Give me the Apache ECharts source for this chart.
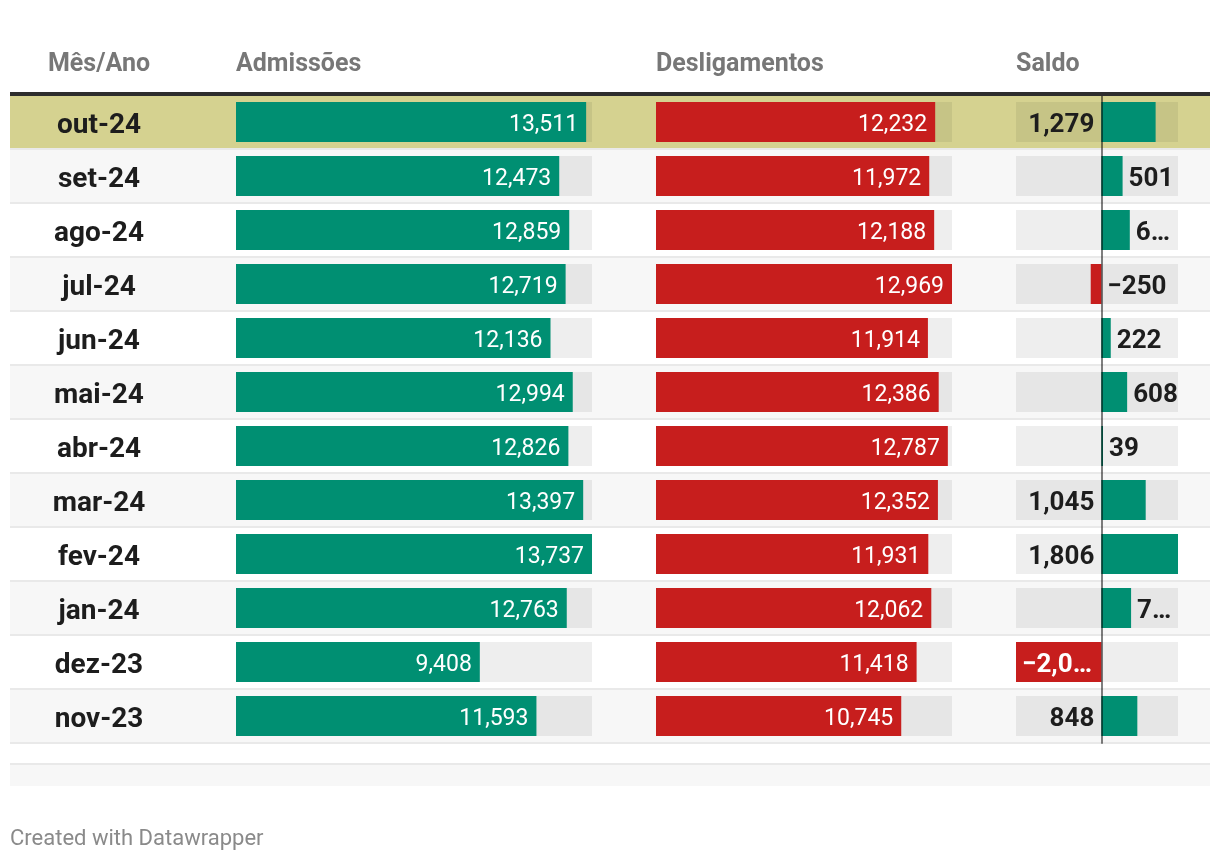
<!DOCTYPE html>
<html><head><meta charset="utf-8">
<script src="https://cdn.jsdelivr.net/npm/echarts@6.0.0/dist/echarts.min.js"></script>
<style>html,body{margin:0;padding:0;background:#fff}#c{width:1220px;height:862px}</style>
</head><body><div id="c"></div>
<script>
// ---- data ----
const months = ['out-24','set-24','ago-24','jul-24','jun-24','mai-24','abr-24','mar-24','fev-24','jan-24','dez-23','nov-23'];
const admissoes = [13511,12473,12859,12719,12136,12994,12826,13397,13737,12763,9408,11593];
const desligamentos = [12232,11972,12188,12969,11914,12386,12787,12352,11931,12062,11418,10745];
const saldo = [1279,501,671,-250,222,608,39,1045,1806,701,-2010,848];
const headers = ['Mês/Ano','Admissões','Desligamentos','Saldo'];
const highlightRow = 'out-24';
const footer = 'Created with Datawrapper';

// ---- layout / style ----
const FONT = 'Roboto, "Noto Sans", sans-serif';
const TOP = 95, ROWH = 54, H = ROWH * months.length;
const ROWG = {left: 10, width: 1200};
const ADM = {left: 236, width: 356};
const DES = {left: 656, width: 296};
const SAL = {left: 1016, width: 162};
const GREEN = '#008f72', RED = '#c71e1d', DARK = '#1d1d1d', HL = '#d5d290';
const TRACK = 'rgba(0,0,0,0.068)';
const SAL_FONT_SIZE = 26;
const SAL_FONT = 'bold ' + SAL_FONT_SIZE + 'px ' + FONT;
const fmt = v => (v < 0 ? '\u2212' : '') + Math.abs(v).toLocaleString('en-US');

const salMin = Math.min(...saldo), salMax = Math.max(...saldo);
const salPx = SAL.width / (salMax - salMin);

const mctx = document.createElement('canvas').getContext('2d');
function measure(t, font) { mctx.font = font; return mctx.measureText(t).width; }
function truncate(t, font, maxW) {
  if (measure(t, font) <= maxW) return t;
  for (let n = t.length - 1; n > 0; n--) {
    const s = t.slice(0, n) + '…';
    if (measure(s, font) <= maxW) return s;
  }
  return '…';
}

function grid(g) { return {left: g.left, width: g.width, top: TOP, height: H, containLabel: false}; }
function yCat(gi, extra) {
  return Object.assign({type: 'category', gridIndex: gi, data: months, inverse: true,
    axisLine: {show: false}, axisTick: {show: false}, axisLabel: {show: false}, splitLine: {show: false}}, extra || {});
}
function xVal(gi, min, max) {
  return {type: 'value', gridIndex: gi, min: min, max: max, show: false, splitLine: {show: false}};
}

function saldoLabel(v) {
  const base = {show: true, fontFamily: FONT, fontSize: SAL_FONT_SIZE, fontWeight: 'bold', offset: [0, 3]};
  if (v >= 800) return Object.assign(base, {position: 'left', distance: 7, color: DARK, formatter: fmt(v)});
  if (v <= -1000) return Object.assign(base, {position: 'insideLeft', distance: 6, color: '#fff',
    formatter: truncate(fmt(v), SAL_FONT, Math.abs(v) * salPx - 12)});
  return Object.assign(base, {position: 'right', distance: 6, color: DARK,
    formatter: truncate(fmt(v), SAL_FONT, (salMax - Math.max(v, 0)) * salPx - 4.8)});
}

const valLabel = {show: true, position: 'insideRight', distance: 8, color: '#fff', offset: [0, 3],
  fontFamily: FONT, fontSize: 23, fontWeight: 'normal', formatter: p => fmt(p.value)};

const option = {
  animation: false,
  textStyle: {fontFamily: FONT},
  grid: [grid(ROWG), grid(ADM), grid(DES), grid(SAL)],
  xAxis: [xVal(0, 0, 1), xVal(1, 0, Math.max(...admissoes)), xVal(2, 0, Math.max(...desligamentos)), xVal(3, salMin, salMax)],
  yAxis: [
    yCat(0, {splitLine: {show: true, lineStyle: {color: '#e9e9e9', width: 2}}}),
    yCat(1, {z: 6, axisLabel: {show: true, margin: ADM.left - 99, align: 'center', color: DARK,
      fontFamily: FONT, fontSize: 28, fontWeight: 'bold', verticalAlign: 'top', lineHeight: 7}}),
    yCat(2),
    yCat(3, {z: 10, axisLine: {show: true, onZero: true, lineStyle: {color: 'rgba(0,0,0,0.5)', width: 2}}})
  ],
  series: [
    {type: 'bar', xAxisIndex: 0, yAxisIndex: 0, silent: true, barWidth: ROWH - 2, z: 1,
      data: months.map((m, i) => ({value: 1, itemStyle: {color: m === highlightRow ? HL : (i % 2 ? '#f7f7f7' : '#ffffff')}}))},
    {type: 'bar', xAxisIndex: 1, yAxisIndex: 1, barWidth: 40, data: admissoes,
      itemStyle: {color: GREEN}, showBackground: true, backgroundStyle: {color: TRACK}, label: valLabel},
    {type: 'bar', xAxisIndex: 2, yAxisIndex: 2, barWidth: 40, data: desligamentos,
      itemStyle: {color: RED}, showBackground: true, backgroundStyle: {color: TRACK}, label: valLabel},
    {type: 'bar', xAxisIndex: 3, yAxisIndex: 3, barWidth: 40, showBackground: true, backgroundStyle: {color: TRACK},
      data: saldo.map(v => ({value: v, itemStyle: {color: v < 0 ? RED : GREEN}, label: saldoLabel(v)}))}
  ],
  graphic: [
    {type: 'rect', shape: {x: 10, y: 92, width: 1200, height: 4}, style: {fill: '#2d2d2d'}, z: 20},
    {type: 'rect', shape: {x: 10, y: 763, width: 1200, height: 2}, style: {fill: '#e9e9e9'}},
    {type: 'rect', shape: {x: 10, y: 765, width: 1200, height: 21}, style: {fill: '#f7f7f7'}},
    {type: 'text', x: 99, y: 65, style: {text: headers[0], fill: '#777', font: 'bold 25px ' + FONT, textAlign: 'center', textVerticalAlign: 'middle'}},
    {type: 'text', x: ADM.left, y: 65, style: {text: headers[1], fill: '#777', font: 'bold 25px ' + FONT, textAlign: 'left', textVerticalAlign: 'middle'}},
    {type: 'text', x: DES.left, y: 65, style: {text: headers[2], fill: '#777', font: 'bold 25px ' + FONT, textAlign: 'left', textVerticalAlign: 'middle'}},
    {type: 'text', x: SAL.left, y: 65, style: {text: headers[3], fill: '#777', font: 'bold 25px ' + FONT, textAlign: 'left', textVerticalAlign: 'middle'}},
    {type: 'text', x: 10, y: 839, style: {text: footer, fill: '#8a8a8a', font: '22px ' + FONT, textAlign: 'left', textVerticalAlign: 'middle'}}
  ]
};
echarts.init(document.getElementById('c'), null, {renderer: 'canvas'}).setOption(option);
</script>
</body></html>
